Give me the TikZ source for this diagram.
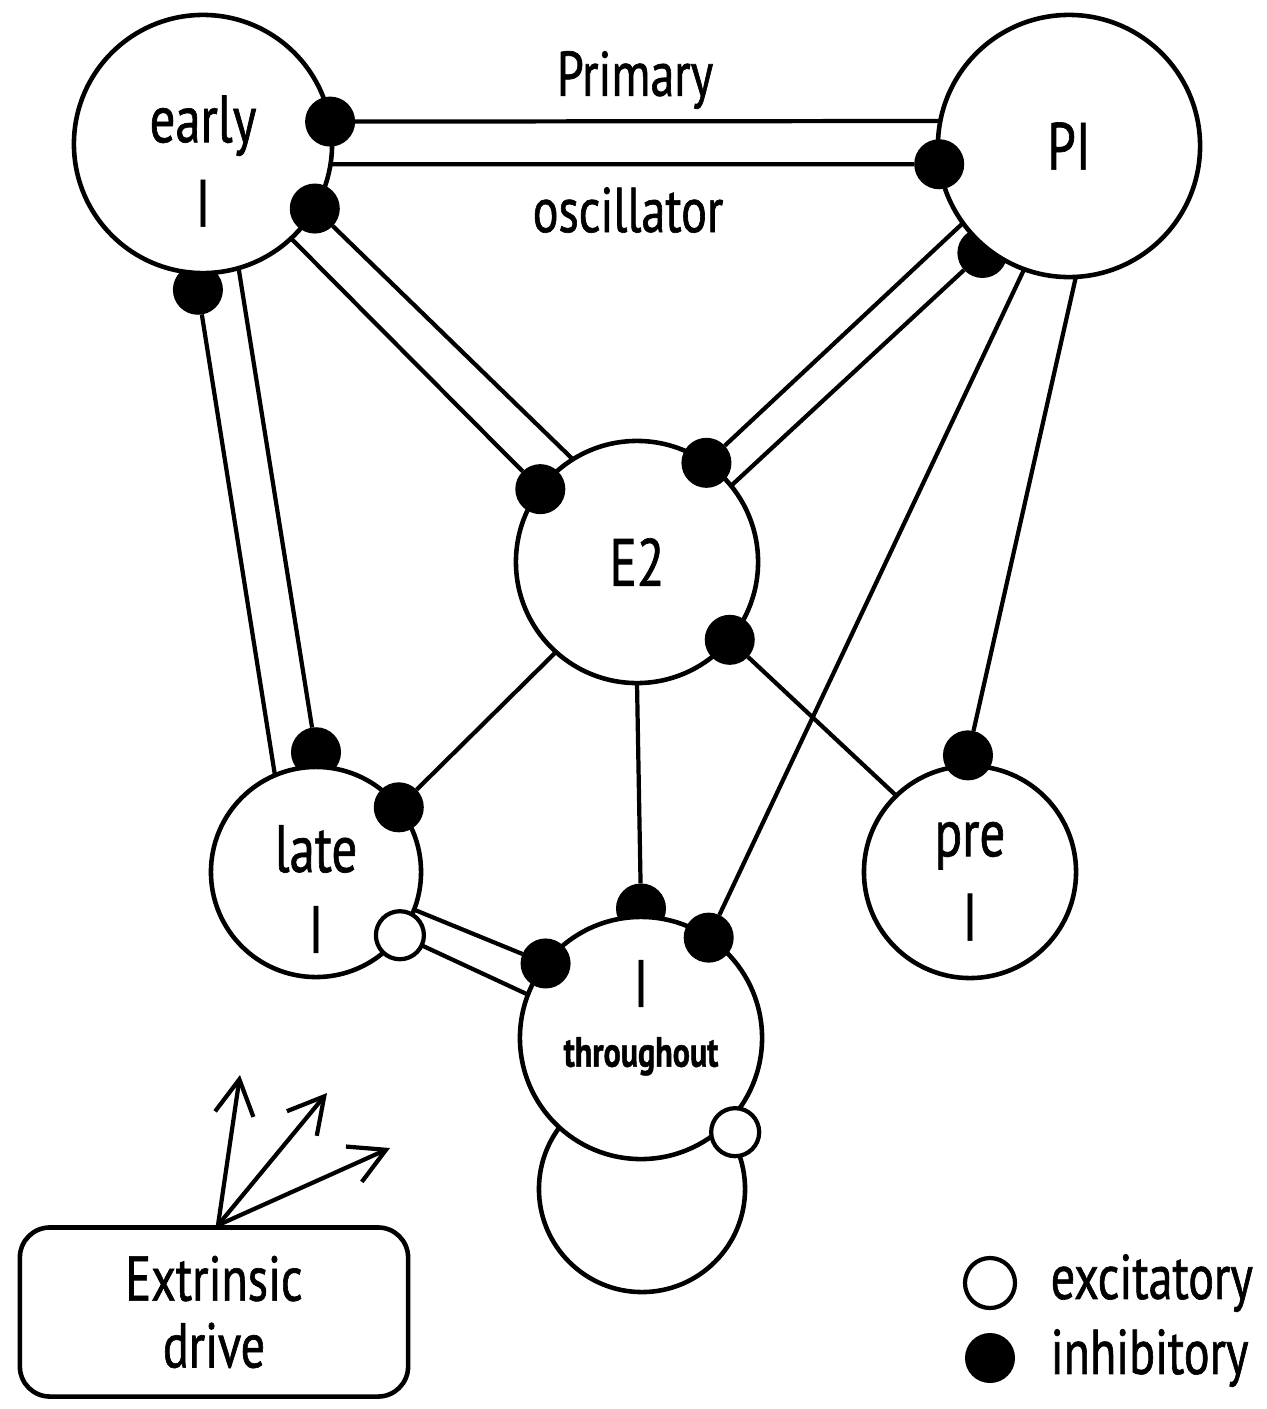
\documentclass[tikz,border=0pt]{standalone}
\usepackage{fontspec}
\setmainfont{PT Sans}[FakeStretch=0.76, FakeBold=1]
\usetikzlibrary{calc, positioning, arrows.meta}
\pgfdeclarelayer{back}
\pgfsetlayers{back,main}
\tikzset{
    cell/.style={circle, draw, fill=white, line width=1.3pt, inner sep=0pt, outer sep=0pt, align=center, font=\fontsize{19}{24}\selectfont},
    inh/.style={circle, fill=black, inner sep=0pt, outer sep=0pt, minimum size=0.5cm},
    exc/.style={circle, draw, fill=white, line width=1.2pt, inner sep=0pt, outer sep=0pt, minimum size=0.48cm},
    syn/.style={line width=1.2pt},
    lbl/.style={inner sep=0pt, font=\fontsize{18}{22}\selectfont},
}
\begin{document}
\begin{tikzpicture}[x=0.01cm, y=-0.01cm]
                \useasboundingbox (0,0) rectangle (1267,1409);
                \node[cell, minimum size=2.58cm] (early) at (203,144) {\rule{0pt}{23pt}early\\I};
                \node[cell, minimum size=2.62cm] (pi) at (1069,146) {PI};
                \node[cell, minimum size=2.42cm] (e2) at (637,562) {E2};
                \node[cell, minimum size=2.10cm] (late) at (316,872) {\rule{0pt}{23pt}late\\[-1pt]I};
                \node[cell, minimum size=2.12cm] (pre) at (970,872) {\rule{0pt}{15pt}pre\\I};
                \node[cell, minimum size=2.06cm] (loop) at (642,1189) {};
                \node[cell, minimum size=2.42cm] (thr) at (641,1038) {I\\[-7pt]{\fontsize{12}{14}\selectfont\bfseries throughout}\rule[-14pt]{0pt}{0pt}};
                \node[lbl] (prim) at (635,80) {Primary};
                \node[lbl] (osc) at (628,210) {oscillator};
                \node[inh] (ea1) at (early.10) {};
                \node[inh] (ea2) at (early.-30) {};
                \node[inh] (pi1) at (pi.188) {};
                \node[inh] (e2a) at (e2.143) {};
                \node[inh] (e2b) at (e2.55) {};
                \node[inh] (e2c) at (e2.-40) {};
                \node[inh] (la2) at (late.38) {};
                \node[exc] (la3) at (late.-37) {};
                \node[inh] (th1) at (thr.142) {};
                \node[inh] (th2) at (thr.56) {};
                \node[exc] (th3) at ($(thr.center)!1.1!(thr.-45)$) {};
                \node[inh] (pr1) at ($(pre.center)!1.1!(pre.91)$) {};
                \begin{pgfonlayer}{back}
                    \node[inh] (ea3) at ($(early.center)!1.13!(early.-92)$) {};
                    \node[inh] (pi2) at ($(pi.center)!1.05!(pi.231)$) {};
                    \node[inh] (la1) at ($(late.center)!1.14!(late.90)$) {};
                    \node[inh] (th0) at ($(thr.center)!1.07!(thr.90)$) {};
                    \draw[syn] (ea1) -- (pi.169);
                    \draw[syn] (early.-9) -- (pi1);
                    \draw[syn] (ea2) -- (e2.122.5);
                    \draw[syn] (early.-47) -- (e2a);
                    \draw[syn] (pi.216) -- (e2b);
                    \draw[syn] (pi2) -- (e2.39);
                    \draw[syn] (ea3) -- (late.113);
                    \draw[syn] (early.-74) -- (la1);
                    \draw[syn] (e2.-132) -- (la2);
                    \draw[syn] (late.-21) -- (th1);
                    \draw[syn] (la3) -- (thr.159);
                    \draw[syn] (e2.-90) -- (th0);
                    \draw[syn] (pi.250) -- (th2);
                    \draw[syn] (pi.273.5) -- (pr1);
                    \draw[syn] (e2c) -- (pre.134);
                \end{pgfonlayer}
                \node[draw, line width=1.3pt, rounded corners=0.3cm, minimum width=3.88cm, minimum height=1.69cm, align=center, font=\fontsize{18}{19}\selectfont] (ext) at (214,1312) {Extrinsic\\drive};
                \coordinate (d1) at (240,1075);
                \coordinate (d2) at (327,1093);
                \coordinate (d3) at (390,1148);
                \foreach \t in {d1,d2,d3}{
                    \draw[syn, -{Straight Barb[length=10pt, width=11pt]}] ([xshift=0.04cm]ext.north) -- (\t);
                }
                \node[exc, minimum size=0.5cm] (kexc) at (990,1283) {};
                \node[inh, minimum size=0.5cm] (kinh) at (990,1358) {};
                \node[lbl, right=0.35cm of kexc] (texc) {excitatory};
                \node[lbl, right=0.35cm of kinh] (tinh) {inhibitory};
            \end{tikzpicture}
\end{document}
